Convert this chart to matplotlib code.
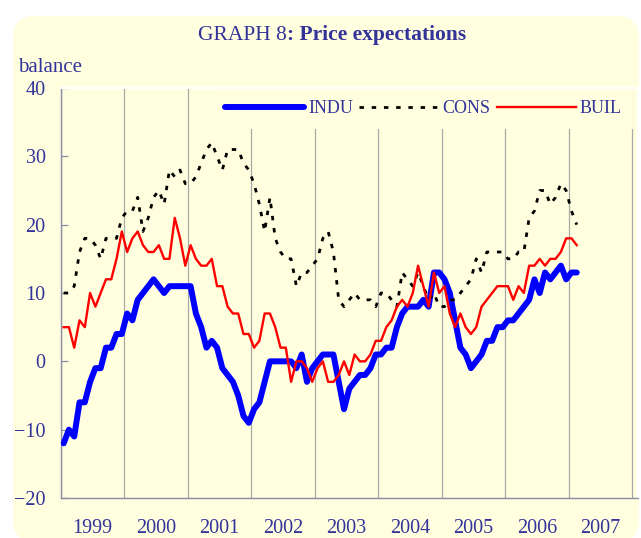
import matplotlib
matplotlib.use('Agg')
import matplotlib.pyplot as plt
import matplotlib.patches as mpatches
import numpy as np

# Couleurs du graphique
TEXT_COLOR = '#333399'
PANEL_COLOR = '#FFFFE0'
AXIS_COLOR = '#8c8ca8'
GRID_COLOR = '#a8a8a8'

plt.rcParams['font.family'] = ['Liberation Serif', 'DejaVu Serif']

# Soldes mensuels, janvier 1999 - fevrier 2007
INDU = [-12, -10, -11, -6, -6, -3, -1, -1, 2, 2, 4, 4,
        7, 6, 9, 10, 11, 12, 11, 10, 11, 11, 11, 11,
        11, 7, 5, 2, 3, 2, -1, -2, -3, -5, -8, -9,
        -7, -6, -3, 0, 0, 0, 0, 0, -1, 1, -3, -1,
        0, 1, 1, 1, -3, -7, -4, -3, -2, -2, -1, 1,
        1, 2, 2, 5, 7, 8, 8, 8, 9, 8, 13, 13,
        12, 10, 6, 2, 1, -1, 0, 1, 3, 3, 5, 5,
        6, 6, 7, 8, 9, 12, 10, 13, 12, 13, 14, 12,
        13, 13]

CONS = [10, 10, 11, 16, 18, 18, 17, 15, 18, 18, 18, 21,
        22, 22, 24, 19, 21, 24, 25, 23, 28, 27, 28, 26,
        26, 27, 29, 31, 32, 30, 28, 31, 31, 31, 29, 28,
        26, 23, 19, 24, 18, 16, 15, 15, 11, 13, 13, 14,
        15, 18, 19, 16, 9, 8, 9, 10, 9, 9, 9, 8,
        10, 10, 9, 8, 13, 12, 11, 13, 11, 9, 10, 8,
        8, 9, 9, 10, 11, 12, 15, 13, 16, 16, 16, 16,
        15, 15, 16, 16, 21, 22, 25, 25, 23, 24, 26, 25,
        22, 20]

BUIL = [5, 5, 2, 6, 5, 10, 8, 10, 12, 12, 15, 19,
        16, 18, 19, 17, 16, 16, 17, 15, 15, 21, 18, 14,
        17, 15, 14, 14, 15, 11, 11, 8, 7, 7, 4, 4,
        2, 3, 7, 7, 5, 2, 2, -3, 0, 0, -1, -3,
        -1, 0, -3, -3, -2, 0, -2, 1, 0, 0, 1, 3,
        3, 5, 6, 8, 9, 8, 10, 14, 11, 8, 13, 10,
        11, 7, 5, 7, 5, 4, 5, 8, 9, 10, 11, 11,
        11, 9, 11, 10, 14, 14, 15, 14, 15, 15, 16, 18,
        18, 17]

YEARS = list(range(1999, 2008))
Y_TICKS = [-20, -10, 0, 10, 20, 30, 40]

# milieu de chaque mois
months = np.arange(len(INDU))
x = YEARS[0] + (months + 0.5) / 12

fig = plt.figure(figsize=(6.41, 5.38), dpi=100, facecolor='white')

# Fond jaune arrondi (derriere tout le reste)
panel = mpatches.FancyBboxPatch((13, -4), 626, 526,
                                boxstyle='round,pad=0,rounding_size=22',
                                transform=None, facecolor=PANEL_COLOR,
                                edgecolor='none', zorder=-10)
fig.patches.append(panel)

ax = fig.add_axes([61 / 641, 40 / 538, 577 / 641, 410 / 538])
ax.patch.set_visible(False)

ax.plot(x, INDU, color='#0000FF', linewidth=4.3, solid_joinstyle='round',
        solid_capstyle='round', label='INDU', zorder=3)
ax.plot(x, CONS, color='black', linewidth=2.0, linestyle=(0, (1.6, 2.8)),
        label='CONS', zorder=4)
ax.plot(x, BUIL, color='#FF0000', linewidth=1.7, label='BUIL', zorder=5)

ax.set_xlim(1999, 2008.09)
ax.set_ylim(-20, 40)

# Grille verticale a chaque debut d'annee, libelles au milieu
ax.set_xticks(YEARS + [2008])
ax.set_xticklabels([])
ax.set_xticks([yr + 0.5 for yr in YEARS], minor=True)
ax.set_xticklabels([str(yr) for yr in YEARS], minor=True)
ax.tick_params(axis='x', which='both', length=0)
ax.tick_params(axis='x', which='minor', pad=15, labelsize=14.5, labelcolor=TEXT_COLOR)
ax.grid(True, axis='x', which='major', color=GRID_COLOR, linewidth=0.9)

ax.set_yticks(Y_TICKS)
ax.tick_params(axis='y', direction='in', length=5, width=0.9, color=AXIS_COLOR,
               pad=11, labelsize=14.5, labelcolor=TEXT_COLOR)

for side in ['left', 'bottom']:
    ax.spines[side].set_color(AXIS_COLOR)
    ax.spines[side].set_linewidth(1.0)
for side in ['top', 'right']:
    ax.spines[side].set_color('white')
    ax.spines[side].set_linewidth(1.5)

leg = ax.legend(loc='center', bbox_to_anchor=(0.628, 0.949), ncol=3,
                fontsize=13, frameon=True, facecolor=PANEL_COLOR,
                edgecolor='none', framealpha=1, fancybox=False,
                handlelength=4.4, handletextpad=0.2, columnspacing=0.35,
                borderpad=0.65, borderaxespad=0)
for txt in leg.get_texts():
    txt.set_color(TEXT_COLOR)
leg.set_zorder(10)

# Titre: partie normale + partie en gras
t1 = fig.text(198 / 641, 1 - 40 / 538, 'GRAPH 8', fontsize=15.5,
              color=TEXT_COLOR, va='baseline', ha='left')
ax.annotate(': Price expectations', xy=(1, 0), xycoords=t1,
            ha='left', va='bottom', fontsize=15.5, fontweight='bold',
            color=TEXT_COLOR)

fig.text(18 / 641, 1 - 72 / 538, 'balance', fontsize=15,
         color=TEXT_COLOR, va='baseline', ha='left')

plt.savefig('out.png', dpi=100, facecolor='white')
plt.close()
